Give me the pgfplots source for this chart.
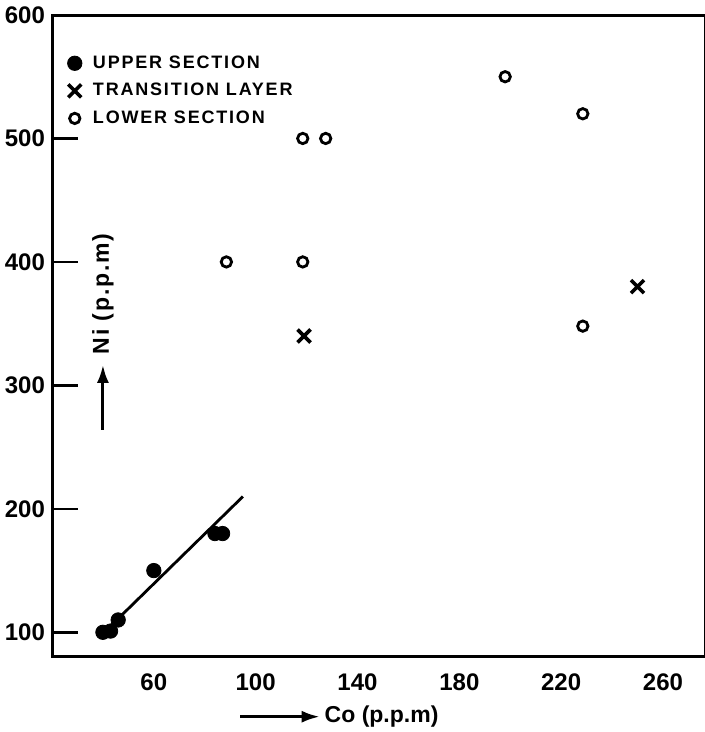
\documentclass[border=0pt]{standalone}
\usepackage{fontspec}
\setmainfont{Liberation Sans}
\newfontfamily\legfont{Liberation Sans}[LetterSpace=10]
\newfontfamily\labfont{Liberation Sans}[LetterSpace=8]
\usepackage{pgfplots}
\pgfplotsset{compat=1.18}
\usetikzlibrary{arrows.meta}

\begin{document}
\begin{tikzpicture}
\begin{axis}[
    scale only axis,
    width=326.5pt, height=321pt,
    xmin=20, xmax=276.5,
    ymin=80, ymax=600,
    xtick={60,100,...,260},
    ytick={100,200,...,600},
    axis line style={line width=1.5pt},
    xtick style={draw=none},
    ytick style={black, line width=1.3pt},
    ytick pos=left,
    major tick length=13pt,
    /pgf/number format/assume math mode=true,
    ticklabel style={font=\bfseries\fontsize{12}{14}\selectfont},
    xticklabel style={yshift=-5pt},
    clip=false,
    legend style={at={(axis description cs:0.012,0.95)}, anchor=north west,
      draw=none, fill=none, row sep=2pt,
      font=\legfont\bfseries\fontsize{9}{11}\selectfont},
    legend cell align=left,
    legend image code/.code={\path[draw=none, fill=none] (0cm,0cm) -- (0.4cm,0cm);
      \draw[#1] plot[only marks] coordinates {(0.15cm,0cm)};},
]
% upper section
\addplot[only marks, mark=*, mark size=3.6pt, black]
  coordinates {(40,100) (43,101) (46,110) (60,150) (84,180) (87,180)};
\addlegendentry{UPPER SECTION}
% transition layer
\addplot[only marks, mark=x, mark size=4.6pt, line width=1.8pt, black]
  coordinates {(119,340) (250,380)};
\addlegendentry{TRANSITION LAYER}
% lower section
\addplot[only marks, mark=o, mark size=2.6pt, line width=1.4pt, black]
  coordinates {(88.5,400) (118.5,500) (127.5,500) (118.5,400) (198,550) (228.5,520) (228.5,348)};
\addlegendentry{LOWER SECTION}
% trend line
\addplot[no marks, line width=1.4pt, black, forget plot]
  coordinates {(40,99) (95,210)};

% axis labels with arrows
\draw[line width=1.5pt, -{Latex[length=9pt,width=6pt]}]
  (axis description cs:0.288,-0.093) -- (axis description cs:0.41,-0.093);
\node[anchor=west, inner sep=1pt, font=\bfseries\fontsize{11.5}{13}\selectfont]
  at (axis description cs:0.414,-0.093) {Co (p.p.m)};
\draw[line width=1.5pt, -{Latex[length=9pt,width=6pt]}]
  (axis description cs:0.078,0.354) -- (axis description cs:0.078,0.455);
\node[anchor=west, rotate=90, inner sep=1pt, font=\labfont\bfseries\fontsize{11.5}{13}\selectfont]
  at (axis description cs:0.078,0.468) {Ni (p.p.m)};
\end{axis}
\pgfresetboundingbox
\path ([xshift=-26pt,yshift=-37.5pt]current axis.south west) rectangle ([yshift=7.5pt]current axis.north east);
\end{tikzpicture}
\end{document}
